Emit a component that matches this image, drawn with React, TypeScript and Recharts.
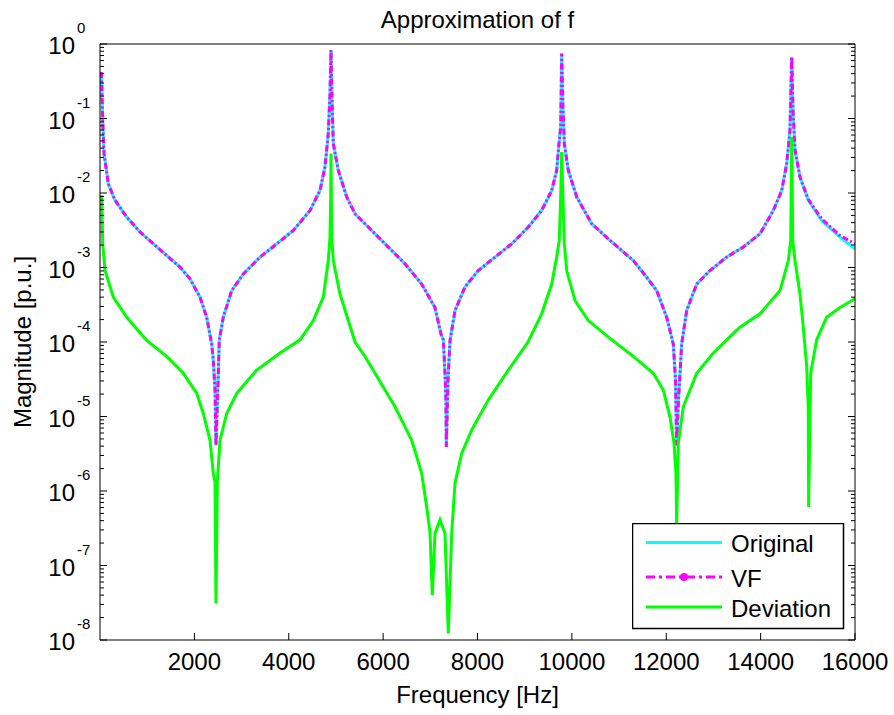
import React from "react"
import { LineChart, Line, XAxis, YAxis, Legend, Label } from "recharts"

// frequency samples for the original / fitted response (Hz)
const freqs = [
	30, 57, 85, 176, 318, 566, 848, 1130, 1413, 1695, 1907, 2119, 2261, 2367, 2401, 2437, 2458, 2507, 2528, 2613, 2791,
	3037, 3391, 3745, 4096, 4451, 4662, 4768, 4838, 4874, 4895, 4917, 4944, 5050, 5228, 5404, 5758, 6110, 6464, 6817,
	7099, 7226, 7275, 7311, 7332, 7339, 7375, 7417, 7523, 7735, 8017, 8371, 8725, 9076, 9360, 9572, 9678, 9727, 9763,
	9784, 9812, 9840, 9924, 10102, 10420, 10808, 11302, 11585, 11797, 12009, 12149, 12196, 12221, 12259, 12327, 12433,
	12645, 12927, 13281, 13633, 13987, 14269, 14447, 14553, 14622, 14659, 14686, 14729, 14834, 15010, 15294, 15682, 16000,
]

const original = [
	0.42, 0.095, 0.034, 0.0133, 0.008, 0.00475, 0.003, 0.00208, 0.00145, 0.00101, 0.000705, 0.0004, 0.000215, 0.000094,
	0.000057, 0.000023, 0.0000041, 0.000038, 0.000107, 0.000215, 0.00049, 0.00082, 0.00138, 0.00208, 0.00314, 0.00583,
	0.0108, 0.0224, 0.063, 0.216, 0.83, 0.18, 0.046, 0.0201, 0.00884, 0.00527, 0.00314, 0.00188, 0.00112, 0.0006, 0.00029,
	0.000128, 0.000107, 0.000038, 0.0000167, 0.0000039, 0.000031, 0.000104, 0.000264, 0.00055, 0.00091, 0.00138, 0.00208,
	0.00349, 0.00583, 0.0108, 0.0201, 0.046, 0.077, 0.745, 0.13, 0.046, 0.0201, 0.00884, 0.00387, 0.00231, 0.00124,
	0.00074, 0.00049, 0.000215, 0.000094, 0.000031, 0.0000041, 0.0000167, 0.000094, 0.000264, 0.0006, 0.00091, 0.00138,
	0.00188, 0.00284, 0.00583, 0.0108, 0.0248, 0.069, 0.67, 0.13, 0.0374, 0.0164, 0.008, 0.00428, 0.00256, 0.00178,
]

const vf = [
	0.42, 0.095, 0.034, 0.0133, 0.008, 0.00475, 0.003, 0.00208, 0.00145, 0.00101, 0.000705, 0.0004, 0.000215, 0.000094,
	0.000057, 0.000023, 0.0000041, 0.000038, 0.000107, 0.000215, 0.00049, 0.00082, 0.00138, 0.00208, 0.00314, 0.00583,
	0.0108, 0.0224, 0.063, 0.216, 0.83, 0.18, 0.046, 0.0201, 0.00884, 0.00527, 0.00314, 0.00188, 0.00112, 0.0006, 0.00029,
	0.000128, 0.000107, 0.000038, 0.0000167, 0.0000039, 0.000031, 0.000104, 0.000264, 0.00055, 0.00091, 0.00138, 0.00208,
	0.00349, 0.00583, 0.0108, 0.0201, 0.046, 0.077, 0.745, 0.13, 0.046, 0.0201, 0.00884, 0.00387, 0.00231, 0.00124,
	0.00074, 0.00049, 0.000215, 0.000094, 0.000031, 0.0000041, 0.0000167, 0.000094, 0.000264, 0.0006, 0.00091, 0.00138,
	0.00188, 0.00284, 0.00583, 0.0108, 0.0248, 0.069, 0.67, 0.13, 0.0374, 0.0164, 0.0082, 0.0045, 0.00269, 0.00208,
]

// deviation curve has its own sampling
const devFreqs = [
	36, 57, 106, 282, 566, 990, 1413, 1765, 2049, 2189, 2331, 2401, 2437, 2458, 2486, 2543, 2685, 2897, 3321, 3815, 4238,
	4520, 4732, 4838, 4874, 4889, 4895, 4910, 4944, 5086, 5404, 5616, 5828, 6040, 6252, 6428, 6605, 6711, 6817, 6923,
	6993, 7042, 7099, 7205, 7311, 7381, 7453, 7523, 7665, 7877, 8229, 8653, 9070, 9360, 9572, 9678, 9733, 9763, 9784,
	9812, 9840, 9891, 10066, 10348, 10808, 11302, 11726, 11937, 12079, 12164, 12206, 12221, 12255, 12361, 12645, 12997,
	13281, 13563, 13987, 14411, 14587, 14638, 14659, 14680, 14729, 14834, 14904, 14976, 15010, 15017, 15061, 15188, 15400,
	15682, 16000,
]

const deviation = [
	0.0093, 0.00208, 0.00091, 0.0004, 0.000215, 0.000105, 0.000064, 0.000038, 0.0000205, 0.000011, 0.0000048, 0.00000172,
	0.00000132, 0.000000031, 0.00000132, 0.0000048, 0.000011, 0.0000205, 0.000042, 0.000071, 0.000107, 0.000194, 0.0004,
	0.00124, 0.00256, 0.0081, 0.034, 0.00256, 0.00124, 0.00044, 0.0001, 0.000064, 0.000038, 0.0000227, 0.0000135,
	0.0000081, 0.0000048, 0.0000029, 0.00000172, 0.00000061, 0.00000028, 0.00000004, 0.00000027, 0.00000041, 0.00000027,
	0.0000000122, 0.00000027, 0.00000127, 0.0000032, 0.0000066, 0.0000167, 0.000042, 0.0001, 0.000239, 0.0006, 0.00138,
	0.00231, 0.00884, 0.0356, 0.0081, 0.00208, 0.00091, 0.00036, 0.000194, 0.000112, 0.000064, 0.000038, 0.0000227,
	0.0000099, 0.0000044, 0.00000172, 0.00000037, 0.0000044, 0.0000135, 0.000038, 0.000071, 0.000107, 0.000158, 0.000239,
	0.00049, 0.00124, 0.00231, 0.0566, 0.00231, 0.00124, 0.00044, 0.000158, 0.000047, 0.0000135, 0.00000061, 0.000038,
	0.000107, 0.000215, 0.00029, 0.00038,
]

const xTicks = [2000, 4000, 6000, 8000, 10000, 12000, 14000, 16000]
const decades = [-8, -7, -6, -5, -4, -3, -2, -1, 0]

const FONT = "'Liberation Sans', Arial, Helvetica, sans-serif"
const CYAN = "#00ffff"
const MAGENTA = "#ff00ff"
const GREEN = "#00ff00"

const origData = freqs.map((f, i) => ({ f, v: original[i] }))
const vfData = freqs.map((f, i) => ({ f, v: vf[i] }))
const devData = devFreqs.map((f, i) => ({ f, v: deviation[i] }))

// major + minor log ticks
const yTicks: number[] = []
decades.forEach((d) => {
	yTicks.push(Math.pow(10, d))
	if (d < 0) for (let m = 2; m <= 9; m++) yTicks.push(m * Math.pow(10, d))
})

const isMajor = (v: number) => Math.abs(Math.log10(v) - Math.round(Math.log10(v))) < 1e-6

const LeftTick = (props: any) => {
	const { x, y, payload } = props
	const major = isMajor(payload.value)
	return (
		<g>
			<line x1={x} x2={x + (major ? 7 : 4)} y1={y} y2={y} stroke="#000" strokeWidth={1} />
			{major && (
				<>
					<text x={x - 25} y={y + 10} textAnchor="end" fontSize={24} fontFamily={FONT} fill="#000">
						10
					</text>
					<text x={x - 23} y={y - 11} textAnchor="start" fontSize={15} fontFamily={FONT} fill="#000">
						{Math.round(Math.log10(payload.value))}
					</text>
				</>
			)}
		</g>
	)
}

const RightTick = (props: any) => {
	const { x, y, payload } = props
	const major = isMajor(payload.value)
	return <line x1={x} x2={x - (major ? 7 : 4)} y1={y} y2={y} stroke="#000" strokeWidth={1} />
}

const BottomTick = (props: any) => {
	const { x, y, payload } = props
	return (
		<g>
			<line x1={x} x2={x} y1={y} y2={y - 7} stroke="#000" strokeWidth={1} />
			<text x={x} y={y + 30} textAnchor="middle" fontSize={24} fontFamily={FONT} fill="#000">
				{payload.value}
			</text>
		</g>
	)
}

const TopTick = (props: any) => {
	const { x, y } = props
	return <line x1={x} x2={x} y1={y} y2={y + 7} stroke="#000" strokeWidth={1} />
}

const LegendBox = () => {
	const rows = [
		{ name: "Original", color: CYAN, dash: undefined, dot: false, y: 19.5 },
		{ name: "VF", color: MAGENTA, dash: "9 4 3 4", dot: true, y: 54 },
		{ name: "Deviation", color: GREEN, dash: undefined, dot: false, y: 84 },
	]
	return (
		<svg width={213} height={107} style={{ display: "block" }}>
			<rect x={0.5} y={0.5} width={211} height={105} fill="#fff" stroke="#000" strokeWidth={1.5} />
			{rows.map((r) => (
				<g key={r.name}>
					<line x1={14} x2={90} y1={r.y} y2={r.y} stroke={r.color} strokeWidth={3} strokeDasharray={r.dash} />
					{r.dot && <circle cx={52} cy={r.y} r={4} fill={r.color} />}
					<text x={99} y={r.y + 9.5} fontSize={24} fontFamily={FONT} fill="#000">
						{r.name}
					</text>
				</g>
			))}
		</svg>
	)
}

const App: React.FC = () => {
	return (
		<div style={{ position: "absolute", left: 0, top: 0, background: "#fff" }}>
			<LineChart width={894} height={715} margin={{ top: 0, right: 0, bottom: 0, left: 0 }}>
				<XAxis
					xAxisId="bottom"
					dataKey="f"
					type="number"
					domain={[0, 16000]}
					ticks={xTicks}
					interval={0}
					height={75}
					tickSize={0}
					tickMargin={0}
					tickLine={false}
					tick={<BottomTick />}
					axisLine={{ stroke: "#000", strokeWidth: 1 }}
					allowDataOverflow>
					<Label
						content={(p: any) => (
							<text
								x={p.viewBox.x + p.viewBox.width / 2}
								y={p.viewBox.y + 63}
								textAnchor="middle"
								fontSize={24}
								fontFamily={FONT}
								fill="#000">
								Frequency [Hz]
							</text>
						)}
					/>
				</XAxis>
				<XAxis
					xAxisId="top"
					orientation="top"
					type="number"
					domain={[0, 16000]}
					ticks={xTicks}
					interval={0}
					height={44}
					tickSize={0}
					tickMargin={0}
					tickLine={false}
					tick={<TopTick />}
					axisLine={{ stroke: "#000", strokeWidth: 1 }}
					allowDataOverflow>
					<Label
						content={(p: any) => (
							<text
								x={p.viewBox.x + p.viewBox.width / 2}
								y={p.viewBox.y + p.viewBox.height - 16}
								textAnchor="middle"
								fontSize={24}
								fontFamily={FONT}
								fill="#000">
								Approximation of f
							</text>
						)}
					/>
				</XAxis>
				<YAxis
					yAxisId="left"
					type="number"
					scale="log"
					domain={[1e-8, 1]}
					ticks={yTicks}
					interval={0}
					width={100}
					tickSize={0}
					tickMargin={0}
					tickLine={false}
					tick={<LeftTick />}
					axisLine={{ stroke: "#000", strokeWidth: 1 }}
					allowDataOverflow>
					<Label
						content={(p: any) => {
							const cx = p.viewBox.x + 31
							const cy = p.viewBox.y + p.viewBox.height / 2
							return (
								<text
									x={cx}
									y={cy}
									transform={`rotate(-90, ${cx}, ${cy})`}
									textAnchor="middle"
									fontSize={24}
									fontFamily={FONT}
									fill="#000">
									Magnitude [p.u.]
								</text>
							)
						}}
					/>
				</YAxis>
				<YAxis
					yAxisId="right"
					orientation="right"
					type="number"
					scale="log"
					domain={[1e-8, 1]}
					ticks={yTicks}
					interval={0}
					width={39}
					tickSize={0}
					tickMargin={0}
					tickLine={false}
					tick={<RightTick />}
					axisLine={{ stroke: "#000", strokeWidth: 1 }}
					allowDataOverflow
				/>
				<Line
					data={origData}
					dataKey="v"
					xAxisId="bottom"
					yAxisId="left"
					type="linear"
					stroke={CYAN}
					strokeWidth={3}
					dot={false}
					isAnimationActive={false}
				/>
				<Line
					data={vfData}
					dataKey="v"
					xAxisId="bottom"
					yAxisId="left"
					type="linear"
					stroke={MAGENTA}
					strokeWidth={3}
					strokeDasharray="6 2.5 2 2.5"
					dot={false}
					isAnimationActive={false}
				/>
				<Line
					data={devData}
					dataKey="v"
					xAxisId="bottom"
					yAxisId="left"
					type="linear"
					stroke={GREEN}
					strokeWidth={3}
					dot={false}
					isAnimationActive={false}
				/>
				<Legend
					layout="vertical"
					align="center"
					verticalAlign="middle"
					wrapperStyle={{ left: 632, top: 523, width: 213, height: 107, margin: 0 }}
					content={() => <LegendBox />}
				/>
			</LineChart>
		</div>
	)
}

export default App
